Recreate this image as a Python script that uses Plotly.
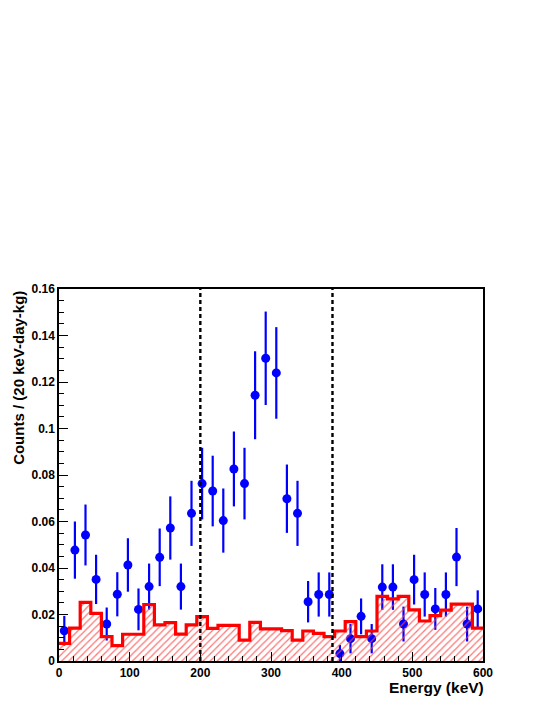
import plotly.graph_objects as go

# energy bin centres (keV), 15 keV bins
energy = [7.5, 22.5, 37.5, 52.5, 67.5, 82.5, 97.5, 112.5, 127.5, 142.5,
          157.5, 172.5, 187.5, 202.5, 217.5, 232.5, 247.5, 262.5, 277.5, 292.5,
          307.5, 322.5, 337.5, 352.5, 367.5, 382.5, 397.5, 412.5, 427.5, 442.5,
          457.5, 472.5, 487.5, 502.5, 517.5, 532.5, 547.5, 562.5, 577.5, 592.5]
bin_width = 15

# measured spectrum (blue points)
counts = [0.0130, 0.0477, 0.0542, 0.0351, 0.0159, 0.0287, 0.0413, 0.0222, 0.0320, 0.0446,
          0.0572, 0.0320, 0.0635, 0.0763, 0.0731, 0.0604, 0.0826, 0.0763, 0.1143, 0.1302,
          0.1239, 0.0698, 0.0635, 0.0255, 0.0286, 0.0286, 0.0032, 0.0096, 0.0192, 0.0096,
          0.0318, 0.0318, 0.0159, 0.0350, 0.0286, 0.0224, 0.0286, 0.0447, 0.0159, 0.0224]
errors = [0.0064, 0.0123, 0.0131, 0.0106, 0.0071, 0.0095, 0.0115, 0.0090, 0.0099, 0.0124,
          0.0136, 0.0099, 0.0140, 0.0154, 0.0152, 0.0138, 0.0161, 0.0154, 0.0189, 0.0201,
          0.0197, 0.0147, 0.0140, 0.0089, 0.0095, 0.0095, 0.0037, 0.0063, 0.0077, 0.0063,
          0.0098, 0.0098, 0.0075, 0.0107, 0.0095, 0.0090, 0.0095, 0.0125, 0.0075, 0.0080]

# background histogram (red hatched)
background = [0.0076, 0.0141, 0.0252, 0.0205, 0.0105, 0.0066, 0.0115, 0.0115, 0.0243, 0.0155,
              0.0165, 0.0116, 0.0155, 0.0191, 0.0140, 0.0153, 0.0153, 0.0090, 0.0166, 0.0138,
              0.0138, 0.0131, 0.0090, 0.0129, 0.0119, 0.0105, 0.0129, 0.0169, 0.0105, 0.0129,
              0.0278, 0.0267, 0.0278, 0.0220, 0.0172, 0.0195, 0.0219, 0.0245, 0.0245, 0.0141]

# analysis window limits (keV)
window = [200, 387]

font = "Liberation Sans"

edges = [e - bin_width / 2 for e in energy] + [energy[-1] + bin_width / 2]
bkg_steps = background + [background[-1]]

fig = go.Figure()

fig.add_trace(go.Scatter(
    x=energy, y=counts, mode="markers",
    marker=dict(color="#0000ff", size=9),
    error_y=dict(type="data", array=errors, color="#0000ff", thickness=2.2, width=0),
))

fig.add_trace(go.Scatter(
    x=edges, y=bkg_steps, mode="lines", line_shape="hv",
    line=dict(color="#ff0000", width=3.2),
    fill="tozeroy", fillcolor="rgba(0,0,0,0)",
    fillpattern=dict(shape="/", fgcolor="rgba(255,70,70,0.75)", bgcolor="rgba(0,0,0,0)",
                     size=5, solidity=0.25, fillmode="replace"),
))

for w in window:
    fig.add_shape(type="line", x0=w, x1=w, y0=0, y1=1, xref="x", yref="y domain",
                  line=dict(color="black", width=2.4, dash="4px,3px"))

axis_common = dict(
    showgrid=False, zeroline=False, showline=True, linecolor="black", linewidth=1.5,
    mirror=True, ticks="inside", tickcolor="black", ticklen=9, tickwidth=1,
    tickfont=dict(family=font, size=12, color="black", weight="bold"),
)

fig.update_xaxes(range=[0, 600], dtick=100, tick0=0,
                 minor=dict(ticks="inside", ticklen=5, dtick=20, tickcolor="black"),
                 **axis_common)
fig.update_yaxes(range=[0, 0.16], dtick=0.02, tick0=0,
                 minor=dict(ticks="inside", ticklen=5, dtick=0.005, tickcolor="black"),
                 **axis_common)

fig.add_annotation(text="Energy (keV)", xref="paper", yref="paper", x=1, y=-0.046,
                   xanchor="right", yanchor="top", showarrow=False, borderpad=0,
                   xshift=2,
                   font=dict(family=font, size=15.5, color="black", weight="bold"))
fig.add_annotation(text="Counts / (20 keV-day-kg)", xref="paper", yref="paper",
                   x=-0.097, y=1, xanchor="center", yanchor="top", textangle=-90,
                   showarrow=False,
                   font=dict(family=font, size=15, color="black", weight="bold"))

# page is shown with an 8px body margin, so shift the plot area up/left to match
fig.update_layout(
    width=545, height=705,
    margin=dict(l=51, r=70, t=281, b=52),
    paper_bgcolor="white", plot_bgcolor="white",
    showlegend=False,
)

fig.write_html("out.html")
